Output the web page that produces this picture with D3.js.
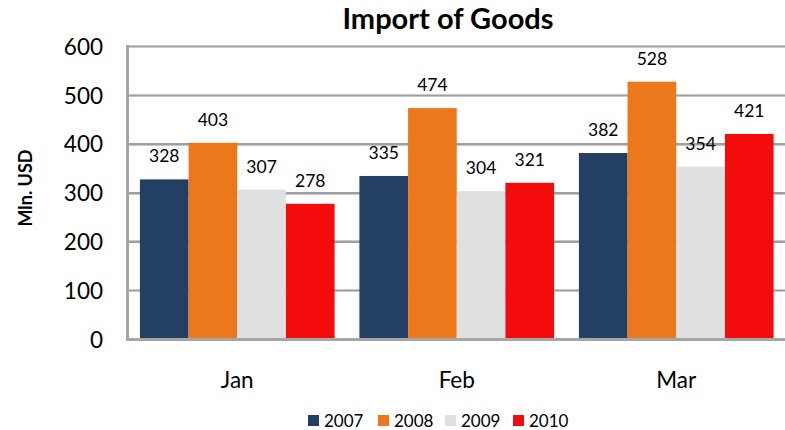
<!DOCTYPE html>
<html>
<head>
<meta charset="utf-8">
<script src="https://cdn.jsdelivr.net/npm/d3@7/dist/d3.min.js"></script>
<style>
  body { margin: 0; background: #fff; }
  svg { display: block; font-family: Lato, "Open Sans", sans-serif; }
  .grid line { shape-rendering: crispEdges; }
</style>
</head>
<body>
<div id="chart"></div>
<script>
const months = ["Jan", "Feb", "Mar"];
const years = ["2007", "2008", "2009", "2010"];
const v2007 = [328, 335, 382];
const v2008 = [403, 474, 528];
const v2009 = [307, 304, 354];
const v2010 = [278, 321, 421];
const yTicks = [0, 100, 200, 300, 400, 500, 600];
const colors = ["#233f63", "#ec781b", "#e0e0e0", "#f40b0b"];

const [svgW, svgH] = [785, 430];
const plot = {left: 127.5, right: 786, top: 46.6, bottom: 339.5};

const seriesValues = [v2007, v2008, v2009, v2010];
const rows = months.map(function (m, i) {
    return {month: m, values: years.map(function (y, j) {
        return {year: y, value: seriesValues[j][i], idx: j};
    })};
});

const svg = d3.select("#chart").append("svg")
    .attr("width", svgW).attr("height", svgH);

const x0 = d3.scaleBand().domain(months)
    .range([plot.left, plot.right])
    .paddingInner(0.113).paddingOuter(0.0565);
const x1 = d3.scaleBand().domain(years).range([0, x0.bandwidth()]);
const y = d3.scaleLinear().domain([0, 600]).range([plot.bottom, plot.top]);
const color = d3.scaleOrdinal().domain(years).range(colors);

// grid lines (excel-ish soft double line)
const grid = svg.append("g").attr("class", "grid");
grid.selectAll("line.soft").data(yTicks.slice(1)).enter().append("line")
    .attr("class", "soft")
    .attr("x1", plot.left).attr("x2", svgW)
    .attr("y1", function (d) { return y(d); }).attr("y2", function (d) { return y(d); })
    .attr("stroke", "#c9c9c9").attr("stroke-width", 3);
grid.selectAll("line.hard").data(yTicks.slice(1)).enter().append("line")
    .attr("class", "hard")
    .attr("x1", plot.left).attr("x2", svgW)
    .attr("y1", function (d) { return y(d); }).attr("y2", function (d) { return y(d); })
    .attr("stroke", "#9f9f9f").attr("stroke-width", 1.5);

// bars
const groups = svg.append("g").selectAll("g").data(rows).enter().append("g")
    .attr("transform", function (d) { return "translate(" + x0(d.month) + ",0)"; });

groups.selectAll("rect").data(function (d) { return d.values; }).enter().append("rect")
    .attr("x", function (d) { return x1(d.year); })
    .attr("y", function (d) { return y(d.value); })
    .attr("width", x1.bandwidth())
    .attr("height", function (d) { return y(0) - y(d.value); })
    .attr("fill", function (d) { return color(d.year); });

groups.selectAll("text").data(function (d) { return d.values; }).enter().append("text")
    .attr("x", function (d) { return x1(d.year) + x1.bandwidth() / 2; })
    .attr("y", function (d) { return y(d.value) - 17; })
    .attr("text-anchor", "middle")
    .attr("font-size", 17.5)
    .attr("fill", "#000")
    .text(function (d) { return d.value; });

// axes lines
svg.append("line")
    .attr("x1", plot.left).attr("x2", plot.left)
    .attr("y1", plot.top - 1.5).attr("y2", plot.bottom + 1.5)
    .attr("stroke", "#a6a6a6").attr("stroke-width", 3);
svg.append("line")
    .attr("x1", plot.left).attr("x2", svgW)
    .attr("y1", plot.bottom).attr("y2", plot.bottom)
    .attr("stroke", "#a6a6a6").attr("stroke-width", 3);

// y tick labels
svg.append("g").selectAll("text").data(yTicks).enter().append("text")
    .attr("x", 103)
    .attr("y", function (d) { return y(d); })
    .attr("dy", "0.36em")
    .attr("text-anchor", "end")
    .attr("font-size", 22.5)
    .attr("fill", "#000")
    .text(function (d) { return d; });

// x category labels
svg.append("g").selectAll("text").data(months).enter().append("text")
    .attr("x", function (d) { return x0(d) + x0.bandwidth() / 2; })
    .attr("y", 388)
    .attr("text-anchor", "middle")
    .attr("font-size", 22.5)
    .attr("fill", "#000")
    .text(function (d) { return d; });

// title
svg.append("text")
    .attr("x", 448).attr("y", 29)
    .attr("text-anchor", "middle")
    .attr("font-size", 29).attr("font-weight", "bold")
    .attr("fill", "#000")
    .text("Import of Goods");

// y axis title
svg.append("text")
    .attr("transform", "translate(32,188) rotate(-90)")
    .attr("text-anchor", "middle")
    .attr("font-size", 18).attr("font-weight", "bold")
    .attr("fill", "#000")
    .text("Mln. USD");

// legend
const legendX = [308, 378, 445, 513];
const legend = svg.append("g").selectAll("g").data(years).enter().append("g")
    .attr("transform", function (d, i) { return "translate(" + legendX[i] + ",415)"; });
legend.append("rect").attr("width", 11).attr("height", 11)
    .attr("fill", function (d) { return color(d); });
legend.append("text").attr("x", 16).attr("y", 11.5)
    .attr("font-size", 17).attr("fill", "#000")
    .text(function (d) { return d; });
</script>
</body>
</html>
